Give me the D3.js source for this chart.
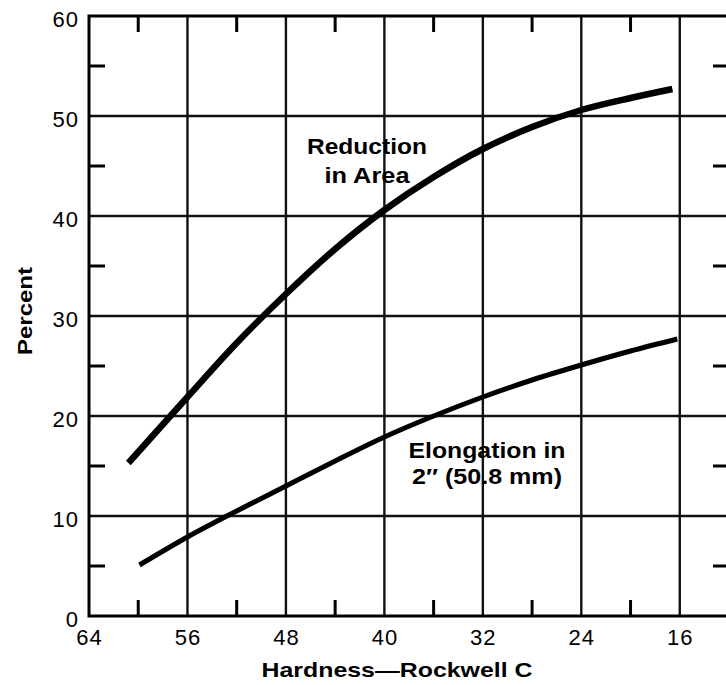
<!DOCTYPE html>
<html>
<head>
<meta charset="utf-8">
<script src="https://cdn.jsdelivr.net/npm/d3@7"></script>
<style>
  body { margin: 0; background: #fff; }
  svg text { font-family: "Liberation Sans", Arial, sans-serif; fill: #000; }
</style>
</head>
<body>
<div id="chart"></div>
<script>
// hardness (Rockwell C) vs percent
let reductionHardness = [60.8, 56, 52, 48, 44, 40, 36, 32, 28, 24, 20, 16.6];
let reductionPercent  = [15.3, 21.9, 27.3, 32.2, 36.7, 40.6, 43.9, 46.7, 48.9, 50.6, 51.8, 52.7];

let elongationHardness = [59.9, 56, 52, 48, 44, 40, 36, 32, 28, 24, 20, 16.2];
let elongationPercent  = [5.1, 7.9, 10.5, 13.0, 15.5, 17.9, 20.0, 21.9, 23.6, 25.1, 26.5, 27.7];

let xMajor = [64, 56, 48, 40, 32, 24, 16];
let xMinor = [60, 52, 44, 36, 28, 20];
let yMajor = [0, 10, 20, 30, 40, 50, 60];
let yMinor = [5, 15, 25, 35, 45, 55];

var width = 726, height = 685;

var svg = d3.select("#chart").append("svg")
    .attr("width", width)
    .attr("height", height);

// frame right edge sits just past the picture
var x = d3.scaleLinear().domain([64, 12]).range([89, 729]);
var y = d3.scaleLinear().domain([0, 60]).range([616, 16]);

// grid
svg.selectAll(".vgrid")
    .data(xMajor.filter(d => d !== 64))
    .enter().append("line")
    .attr("x1", d => x(d)).attr("x2", d => x(d))
    .attr("y1", y(60)).attr("y2", y(0))
    .attr("stroke", "#111").attr("stroke-width", 2.4);

svg.selectAll(".hgrid")
    .data(yMajor.filter(d => d !== 0 && d !== 60))
    .enter().append("line")
    .attr("x1", x(64)).attr("x2", x(12))
    .attr("y1", d => y(d)).attr("y2", d => y(d))
    .attr("stroke", "#111").attr("stroke-width", 2.4);

// frame
svg.append("path")
    .attr("d", `M${x(12)},${y(60)} H${x(64)} V${y(0)} H${x(12)} V${y(60)}`)
    .attr("fill", "none")
    .attr("stroke", "#000").attr("stroke-width", 3);

// minor ticks, pointing inward from every side
var tl = 16;
xMinor.forEach(function(d) {
    svg.append("line").attr("x1", x(d)).attr("x2", x(d))
        .attr("y1", y(0)).attr("y2", y(0) - tl)
        .attr("stroke", "#000").attr("stroke-width", 3);
    svg.append("line").attr("x1", x(d)).attr("x2", x(d))
        .attr("y1", y(60)).attr("y2", y(60) + tl)
        .attr("stroke", "#000").attr("stroke-width", 3);
});
yMinor.forEach(function(d) {
    svg.append("line").attr("x1", x(64)).attr("x2", x(64) + tl)
        .attr("y1", y(d)).attr("y2", y(d))
        .attr("stroke", "#000").attr("stroke-width", 3);
    svg.append("line").attr("x1", x(12)).attr("x2", x(12) - tl)
        .attr("y1", y(d)).attr("y2", y(d))
        .attr("stroke", "#000").attr("stroke-width", 3);
});

// tick labels via axes
var yAxis = d3.axisLeft(y).tickValues(yMajor).tickSize(0).tickPadding(10);
var gy = svg.append("g").attr("transform", `translate(${x(64)},3)`).call(yAxis);
gy.select(".domain").remove();
gy.selectAll("text").attr("font-size", 22).attr("letter-spacing", 1)
    .attr("font-family", "Liberation Sans, Arial, sans-serif");

var xAxis = d3.axisBottom(x).tickValues(xMajor).tickSize(0).tickPadding(13);
var gx = svg.append("g").attr("transform", `translate(0,${y(0)})`).call(xAxis);
gx.select(".domain").remove();
gx.selectAll("text").attr("font-size", 22).attr("letter-spacing", 1)
    .attr("font-family", "Liberation Sans, Arial, sans-serif");

// curves
var line = d3.line()
    .x(d => x(d[0]))
    .y(d => y(d[1]))
    .curve(d3.curveCatmullRom.alpha(0.5));

svg.append("path")
    .datum(d3.zip(reductionHardness, reductionPercent))
    .attr("d", line)
    .attr("fill", "none")
    .attr("stroke", "#000").attr("stroke-width", 6.5);

svg.append("path")
    .datum(d3.zip(elongationHardness, elongationPercent))
    .attr("d", line)
    .attr("fill", "none")
    .attr("stroke", "#000").attr("stroke-width", 5);

// curve labels, stretched to the widths of the scan
function label(lines, widths, cx, y0, dy) {
    lines.forEach(function(s, i) {
        svg.append("text")
            .attr("x", cx).attr("y", y0 + i * dy)
            .attr("text-anchor", "middle")
            .attr("font-size", 22).attr("font-weight", "bold")
            .attr("textLength", widths[i])
            .attr("lengthAdjust", "spacingAndGlyphs")
            .text(s);
    });
}
label(["Reduction", "in Area"], [120, 85], 367, 154, 29);
label(["Elongation in", "2\u2033 (50.8 mm)"], [157, 150], 487, 458, 26);

// axis titles
svg.append("text")
    .attr("x", 397).attr("y", 677)
    .attr("text-anchor", "middle")
    .attr("font-size", 21).attr("font-weight", "bold")
    .attr("textLength", 271).attr("lengthAdjust", "spacingAndGlyphs")
    .text("Hardness\u2014Rockwell C");

svg.append("text")
    .attr("transform", "translate(32,311) rotate(-90)")
    .attr("text-anchor", "middle")
    .attr("font-size", 21).attr("font-weight", "bold")
    .attr("textLength", 88).attr("lengthAdjust", "spacingAndGlyphs")
    .text("Percent");
</script>
</body>
</html>
